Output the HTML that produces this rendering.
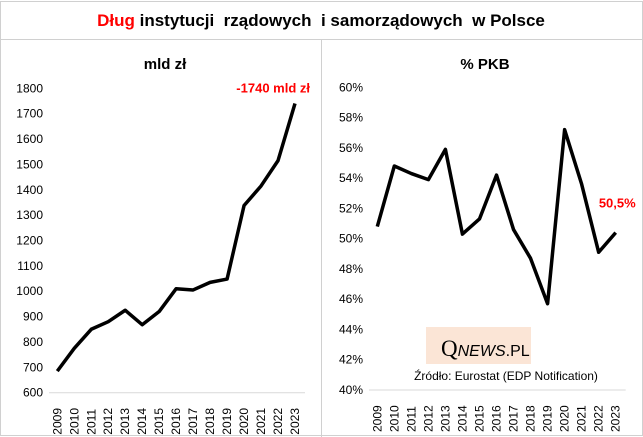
<!DOCTYPE html>
<html><head><meta charset="utf-8"><style>
body{margin:0;background:#fff;font-family:"Liberation Sans",sans-serif}
#wrap{position:relative;width:643px;height:437px;overflow:hidden}
</style></head><body>
<div id="wrap">
<svg width="643" height="437" viewBox="0 0 643 437">
<rect x="0.5" y="1.5" width="642" height="434" fill="#fff" stroke="#d0d0d0"/>
<line x1="0" y1="39.5" x2="643" y2="39.5" stroke="#d0d0d0"/>
<line x1="321.5" y1="39" x2="321.5" y2="437" stroke="#d0d0d0"/>
<text x="321" y="26" text-anchor="middle" font-size="17" font-weight="bold" xml:space="preserve"><tspan fill="#ff0000">Dług</tspan> instytucji  rządowych  i samorządowych  w Polsce</text>
<text x="165" y="69" text-anchor="middle" font-size="15" font-weight="bold">mld zł</text>
<text x="485" y="69" text-anchor="middle" font-size="15" font-weight="bold">% PKB</text>
<g id="left"></g>
<g id="right"></g>
<rect x="426" y="327" width="105" height="37" fill="#fbe5d6"/>
<text x="441" y="356" font-size="23" font-family="Liberation Serif,serif">Q<tspan font-size="16" font-style="italic" font-family="Liberation Sans,sans-serif">NEWS</tspan><tspan font-size="16" font-family="Liberation Sans,sans-serif">.PL</tspan></text>
<text x="506" y="380" text-anchor="middle" font-size="12">Źródło: Eurostat (EDP Notification)</text>
</svg>
</div>
<script>
const years=["2009","2010","2011","2012","2013","2014","2015","2016","2017","2018","2019","2020","2021","2022","2023"];
const debtValues=[685,775,850,880,925,868,920,1010,1005,1035,1048,1338,1415,1515,1740];
const gdpValues=[50.8,54.8,54.3,53.9,55.9,50.3,51.3,54.2,50.6,48.7,45.7,57.2,53.6,49.1,50.4];
const leftTicks=[600,700,800,900,1000,1100,1200,1300,1400,1500,1600,1700,1800];
const rightTicks=[40,42,44,46,48,50,52,54,56,58,60];
const NS="http://www.w3.org/2000/svg";
function mk(p,t,a){const e=document.createElementNS(NS,t);for(const k in a)e.setAttribute(k,a[k]);p.appendChild(e);return e;}
function draw(gid,vals,ticks,x0,x1,y0,y1,vmin,vmax,fmt,axisLeft,name){
 const g=document.getElementById(gid);
 const xs=i=>x0+(x1-x0)*i/(years.length-1);
 const ys=v=>y0-(v-vmin)/(vmax-vmin)*(y0-y1);
 const ax=mk(g,'line',{x1:axisLeft,x2:x1+10,y1:y0,y2:y0,stroke:'#d9d9d9'});
 
 
 ticks.forEach(t=>{const e=mk(g,'text',{x:axisLeft-6,y:ys(t)+4,'text-anchor':'end','font-size':'12'});e.textContent=fmt(t);
  
  });
 years.forEach((y,i)=>{const e=mk(g,'text',{x:0,y:0,'font-size':'12',transform:`translate(${xs(i)+4},${y0+42}) rotate(-90)`});e.textContent=y;
  
  });
 const pts=vals.map((v,i)=>xs(i)+','+ys(v)).join(' ');
 const l=mk(g,'polyline',{points:pts,fill:'none',stroke:'#000','stroke-width':'3.5','stroke-linejoin':'round'});
 
 
 return {xs,ys};
}
const L=draw('left',debtValues,leftTicks,57.3,295,392.7,88.3,600,1800,t=>t,49,'debt');
const R=draw('right',gdpValues,rightTicks,377.3,615.7,390,87.3,40,60,t=>t+'%',369,'gdp-share');
const a1=mk(document.getElementById('left'),'text',{x:L.xs(14)+15,y:L.ys(1800)+4,'text-anchor':'end','font-size':'13','font-weight':'bold',fill:'#ff0000'});
a1.textContent='-1740 mld zł';


const a2=mk(document.getElementById('right'),'text',{x:R.xs(14)+20,y:R.ys(gdpValues[14])-25,'text-anchor':'end','font-size':'13','font-weight':'bold',fill:'#ff0000'});
a2.textContent='50,5%';


</script>
</body></html>
